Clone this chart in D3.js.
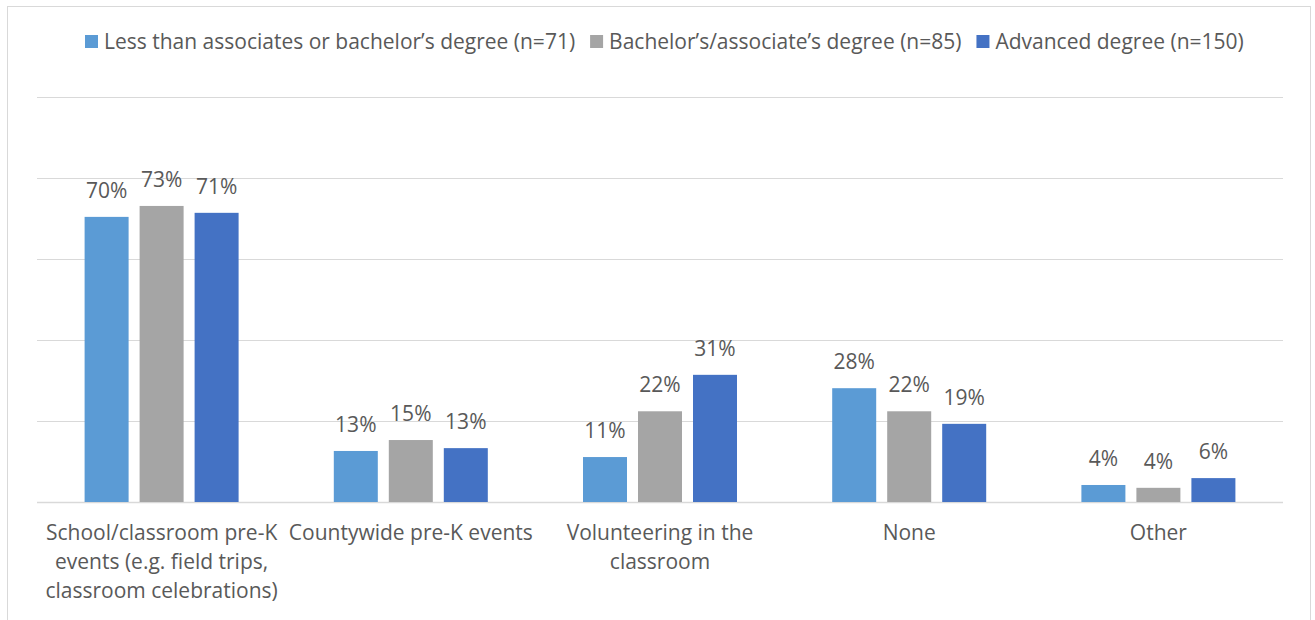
<!DOCTYPE html>
<html>
<head>
<meta charset="utf-8">
<style>
  body { margin: 0; background: #fff; }
  text { font-family: "Open Sans", "Noto Sans", sans-serif; fill: #595959; }
</style>
<script src="https://cdnjs.cloudflare.com/ajax/libs/d3/7.8.5/d3.min.js"></script>
</head>
<body>
<div id="chart"></div>
<script>
const categories = [
  ["School/classroom pre-K", "events (e.g. field trips,", "classroom celebrations)"],
  ["Countywide pre-K events"],
  ["Volunteering in the", "classroom"],
  ["None"],
  ["Other"]
];
const seriesNames = [
  "Less than associates or bachelor\u2019s degree (n=71)",
  "Bachelor\u2019s/associate\u2019s degree (n=85)",
  "Advanced degree (n=150)"
];
const lessThan = [70.4, 12.6, 11.1, 28.1, 4.2];
const bachelors = [73.1, 15.3, 22.4, 22.4, 3.5];
const advanced = [71.4, 13.3, 31.4, 19.3, 5.9];
const colors = ["#5B9BD5", "#A5A5A5", "#4472C4"];
const yTicks = [0, 20, 40, 60, 80, 100];

const W = 1315, H = 620;
const fontSize = 21;
const svg = d3.select("#chart").append("svg").attr("width", W).attr("height", H);

// outer frame
svg.append("rect").attr("x", 7.5).attr("y", 6.5).attr("width", 1303).attr("height", 640)
  .attr("fill", "none").attr("stroke", "#d9d9d9");

const plotLeft = 37, plotRight = 1283, plotTop = 97, plotBottom = 502;
const x = d3.scaleBand().domain(d3.range(categories.length)).range([plotLeft, plotRight]);
const x1 = d3.scaleBand().domain(d3.range(3)).range([0, 154]).paddingInner(0.2);
const y = d3.scaleLinear().domain([0, 100]).range([plotBottom, plotTop]);

// gridlines
svg.append("g").selectAll("line").data(yTicks).join("line")
  .attr("x1", plotLeft).attr("x2", plotRight)
  .attr("y1", d => Math.round(y(d)) + 0.5).attr("y2", d => Math.round(y(d)) + 0.5)
  .attr("stroke", "#d9d9d9").attr("stroke-width", d => d === 0 ? 1.5 : 1);

const series = [lessThan, bachelors, advanced];
const groups = svg.append("g").selectAll("g").data(categories).join("g")
  .attr("transform", (d, i) => `translate(${x(i) + x.bandwidth() / 2 - 77},0)`);

groups.each(function(c, i) {
  const g = d3.select(this);
  series.forEach((s, k) => {
    g.append("rect")
      .attr("x", x1(k)).attr("width", x1.bandwidth())
      .attr("y", y(s[i])).attr("height", y(0) - y(s[i]))
      .attr("fill", colors[k]);
    g.append("text")
      .attr("x", x1(k) + x1.bandwidth() / 2).attr("y", y(s[i]) - 19)
      .attr("text-anchor", "middle").attr("font-size", fontSize)
      .text(Math.round(s[i]) + "%");
  });
});

// category labels
svg.append("g").selectAll("text").data(categories).join("text")
  .attr("text-anchor", "middle").attr("font-size", fontSize)
  .attr("transform", (d, i) => `translate(${x(i) + x.bandwidth() / 2},540)`)
  .each(function(lines) {
    d3.select(this).selectAll("tspan").data(lines).join("tspan")
      .attr("x", 0).attr("dy", (d, j) => j === 0 ? 0 : 29).text(d => d);
  });

// legend, laid out left to right
const legend = svg.append("g").attr("transform", "translate(0,35)");
let lx = 85;
seriesNames.forEach((name, i) => {
  const item = legend.append("g").attr("transform", `translate(${lx},0)`);
  item.append("rect").attr("width", 13).attr("height", 13).attr("fill", colors[i]);
  const t = item.append("text").attr("x", 19).attr("y", 14).attr("font-size", fontSize).text(name);
  lx += 19 + t.node().getComputedTextLength() + 15;
});
</script>
</body>
</html>
